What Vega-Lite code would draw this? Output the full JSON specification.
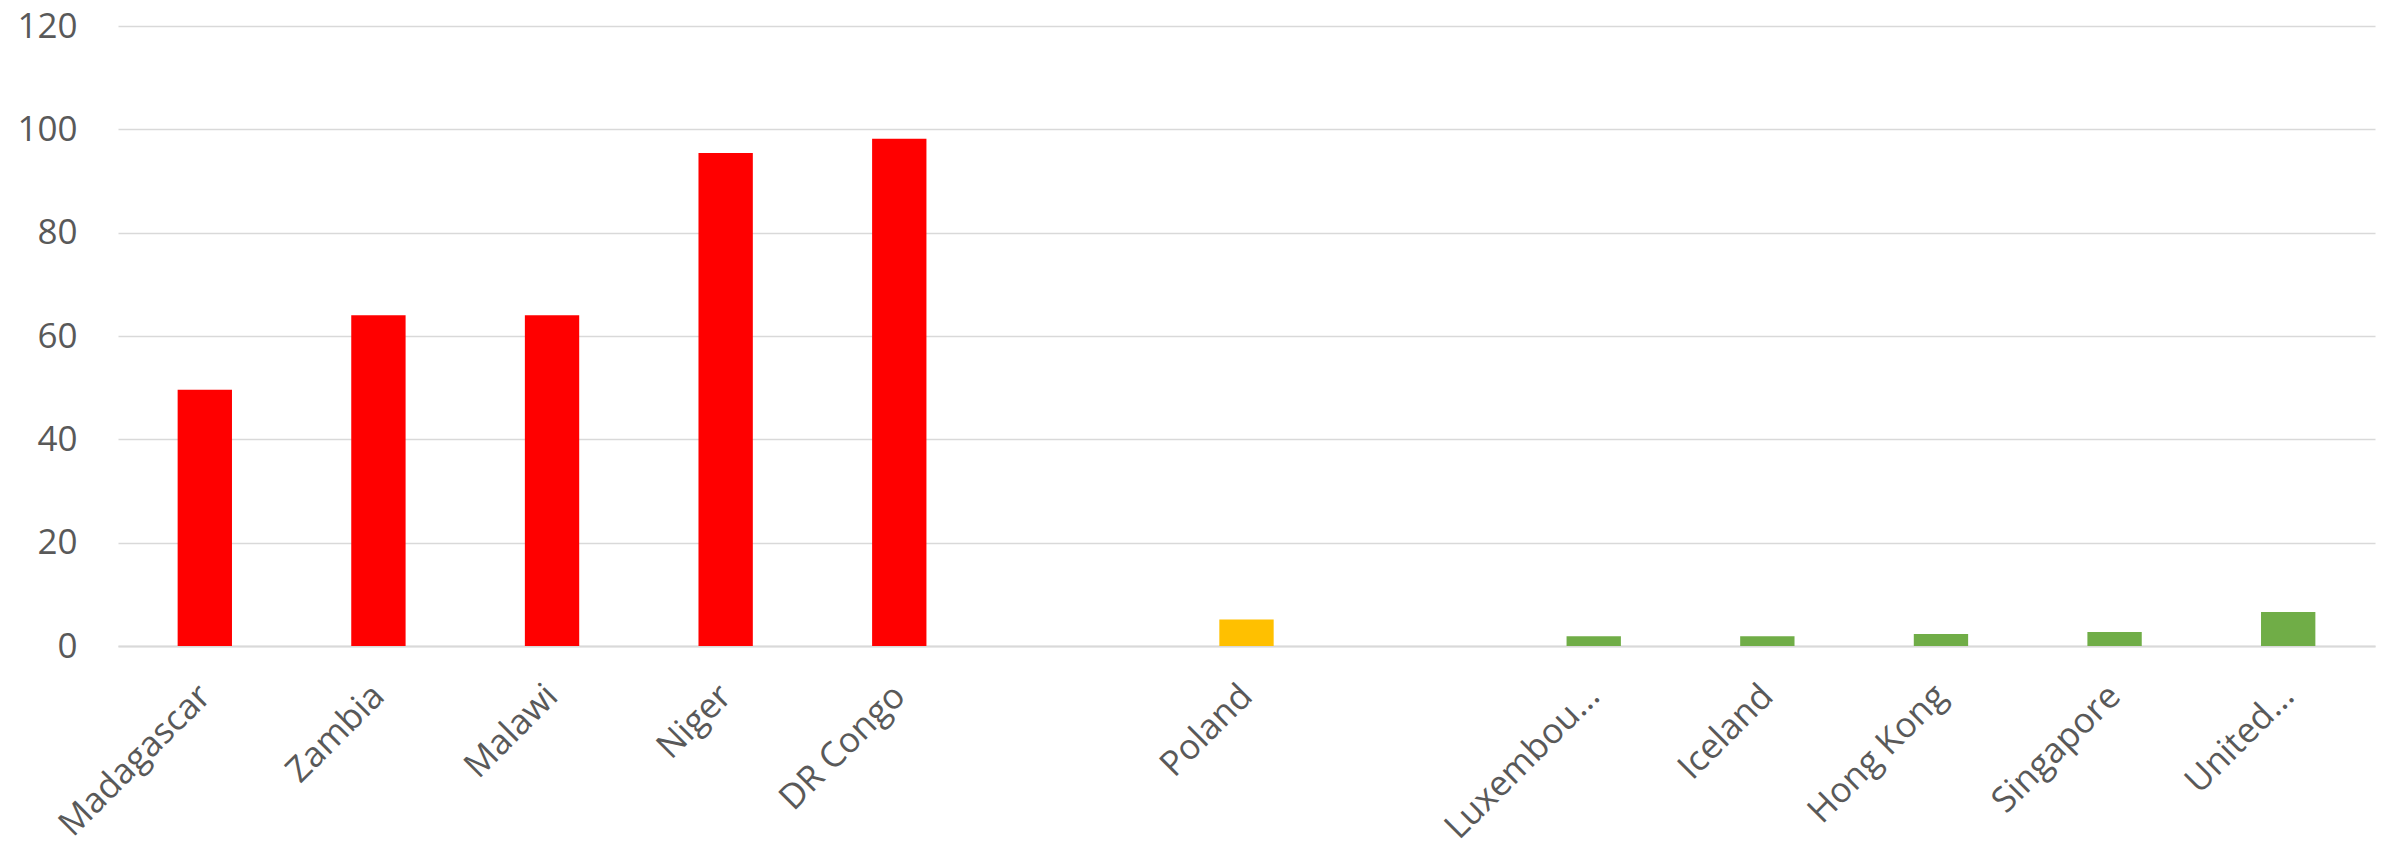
{
  "$schema": "https://vega.github.io/schema/vega-lite/v6.json",
  "autosize": {"type": "none"},
  "padding": {"left": 118, "top": 26, "right": 14, "bottom": 202},
  "width": 2257,
  "height": 620,
  "background": "white",
  "config": {
    "view": {"stroke": null},
    "font": "Open Sans"
  },
  "data": {
    "values": [
      {"country": "Madagascar", "value": 49.6, "level": "high"},
      {"country": "Zambia", "value": 64.0, "level": "high"},
      {"country": "Malawi", "value": 64.0, "level": "high"},
      {"country": "Niger", "value": 95.4, "level": "high"},
      {"country": "DR Congo", "value": 98.2, "level": "high"},
      {"country": "Poland", "value": 5.15, "level": "mid"},
      {"country": "Luxembou...", "value": 1.9, "level": "low"},
      {"country": "Iceland", "value": 1.9, "level": "low"},
      {"country": "Hong Kong", "value": 2.3, "level": "low"},
      {"country": "Singapore", "value": 2.7, "level": "low"},
      {"country": "United...", "value": 6.6, "level": "low"}
    ]
  },
  "mark": {"type": "bar"},
  "encoding": {
    "x": {
      "field": "country",
      "type": "nominal",
      "sort": null,
      "scale": {
        "domain": ["Madagascar", "Zambia", "Malawi", "Niger", "DR Congo", "gap1", "Poland", "gap2", "Luxembou...", "Iceland", "Hong Kong", "Singapore", "United..."],
        "paddingInner": 0.687,
        "paddingOuter": 0.3435
      },
      "axis": {
        "title": null,
        "labelExpr": "indexof(datum.value, 'gap') == 0 ? '' : datum.value",
        "labelAngle": -45,
        "labelAlign": "right",
        "labelBaseline": "middle",
        "labelPadding": 44,
        "labelFontSize": 35,
        "labelLimit": 500,
        "labelOverlap": false,
        "labelColor": "#595959",
        "ticks": false,
        "domain": true,
        "domainColor": "#d9d9d9",
        "domainWidth": 2,
        "grid": false
      }
    },
    "y": {
      "field": "value",
      "type": "quantitative",
      "scale": {"domain": [0, 120], "nice": false},
      "axis": {
        "title": null,
        "values": [0, 20, 40, 60, 80, 100, 120],
        "labelFontSize": 35,
        "labelColor": "#595959",
        "labelPadding": 41,
        "ticks": false,
        "domain": false,
        "grid": true,
        "gridColor": "#d9d9d9",
        "gridWidth": 1.5
      }
    },
    "color": {
      "field": "level",
      "type": "nominal",
      "scale": {"domain": ["high", "mid", "low"], "range": ["#FF0000", "#FFC000", "#70AD47"]},
      "legend": null
    }
  }
}
